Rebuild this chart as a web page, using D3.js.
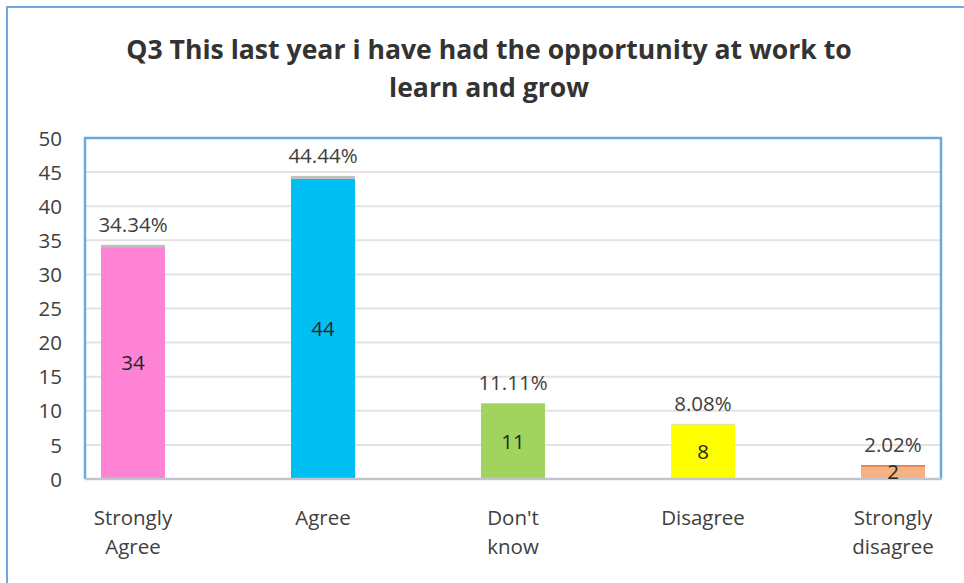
<!DOCTYPE html>
<html>
<head>
<meta charset="utf-8">
<script src="https://cdn.jsdelivr.net/npm/d3@7"></script>
<style>
  html, body { margin: 0; padding: 0; background: #fff; }
  svg { display: block; font-family: "Open Sans", "Noto Sans", sans-serif; }
</style>
</head>
<body>
<svg id="chart" width="964" height="583"></svg>
<script>
// Survey responses for Q3
const categories = ["Strongly Agree", "Agree", "Don't know", "Disagree", "Strongly disagree"];
const categoryLines = [["Strongly", "Agree"], ["Agree"], ["Don't", "know"], ["Disagree"], ["Strongly", "disagree"]];
const counts = [34, 44, 11, 8, 2];
const percents = [34.34, 44.44, 11.11, 8.08, 2.02];
const barColors = ["#FF83D5", "#00BFF3", "#A1D45F", "#FFFF00", "#F4B183"];
const capColors = ["#BFBFBF", "#BFBFBF", "#BFBFBF", "#BFBFBF", "#E8612C"];
const yTicks = [0, 5, 10, 15, 20, 25, 30, 35, 40, 45, 50];
const titleLines = ["Q3 This last year i have had the opportunity at work to", "learn and grow"];

const svg = d3.select("#chart");
const W = 964, H = 583;
const plot = { left: 85, right: 941, top: 138, bottom: 479 };
const labelSize = 20.5;

// outer frame (left and top edges visible)
svg.append("path")
  .attr("d", `M7,${H + 2} L7,7 L${W + 2},7`)
  .attr("fill", "none").attr("stroke", "#6FA8DC").attr("stroke-width", 2);

// title
svg.append("text")
  .attr("x", 489).attr("y", 59)
  .attr("text-anchor", "middle")
  .attr("font-size", 26.6).attr("font-weight", "bold").attr("fill", "#333333")
  .selectAll("tspan").data(titleLines).join("tspan")
  .attr("x", 489).attr("dy", (d, i) => i === 0 ? 0 : 38)
  .text(d => d);

const y = d3.scaleLinear().domain([0, 50]).range([plot.bottom, plot.top]);
const x = d3.scalePoint().domain(categories).range([133, 893]);
const barW = 64;

// gridlines
svg.append("g").selectAll("line").data(yTicks.filter(t => t > 0 && t < 50)).join("line")
  .attr("x1", plot.left).attr("x2", plot.right)
  .attr("y1", d => y(d)).attr("y2", d => y(d))
  .attr("stroke", "#E3E3E3").attr("stroke-width", 2);

// y axis labels
const yAxis = d3.axisLeft(y).tickValues(yTicks).tickSize(0).tickPadding(0);
const gy = svg.append("g").attr("transform", `translate(62,0)`).call(yAxis);
gy.select(".domain").remove();
gy.selectAll("text")
  .attr("font-family", "'Open Sans', sans-serif")
  .attr("font-size", labelSize).attr("fill", "#404040").attr("dy", "0.35em");

// count bars
svg.append("g").selectAll("rect").data(categories).join("rect")
  .attr("x", (d) => x(d) - barW / 2)
  .attr("width", barW)
  .attr("y", (d, i) => y(counts[i]))
  .attr("height", (d, i) => y(0) - y(counts[i]))
  .attr("fill", (d, i) => barColors[i]);

// percentage series stacked on top (as a fraction of one unit)
svg.append("g").selectAll("rect").data(categories).join("rect")
  .attr("x", (d) => x(d) - barW / 2)
  .attr("width", barW)
  .attr("y", (d, i) => y(counts[i] + percents[i] / 100))
  .attr("height", (d, i) => Math.max(y(counts[i]) - y(counts[i] + percents[i] / 100), i === 4 ? 1.2 : 0))
  .attr("fill", (d, i) => capColors[i]);

// plot border: blue on left/top/right, grey baseline
svg.append("path")
  .attr("d", `M${plot.left},${plot.bottom} L${plot.left},${plot.top} L${plot.right},${plot.top} L${plot.right},${plot.bottom}`)
  .attr("fill", "none").attr("stroke", "#6FA8DC").attr("stroke-width", 2.5);
svg.append("line")
  .attr("x1", plot.left).attr("x2", plot.right + 1)
  .attr("y1", plot.bottom).attr("y2", plot.bottom)
  .attr("stroke", "#BFC5CC").attr("stroke-width", 2.5);

// count labels centred in bars
svg.append("g").selectAll("text").data(categories).join("text")
  .attr("x", d => x(d))
  .attr("y", (d, i) => (y(counts[i]) + y(0)) / 2)
  .attr("dy", "0.35em")
  .attr("text-anchor", "middle")
  .attr("font-size", labelSize).attr("fill", "#262626")
  .text((d, i) => counts[i]);

// percentage labels above bars
svg.append("g").selectAll("text").data(categories).join("text")
  .attr("x", d => x(d))
  .attr("y", (d, i) => y(counts[i] + percents[i] / 100) - 13)
  .attr("text-anchor", "middle")
  .attr("font-size", labelSize).attr("fill", "#404040")
  .text((d, i) => percents[i].toFixed(2) + "%");

// category labels
const gx = svg.append("g").selectAll("text").data(categories).join("text")
  .attr("x", d => x(d))
  .attr("y", 525)
  .attr("text-anchor", "middle")
  .attr("font-size", labelSize).attr("fill", "#404040");
gx.selectAll("tspan").data((d, i) => categoryLines[i].map(t => ({ t, c: d }))).join("tspan")
  .attr("x", d => x(d.c))
  .attr("dy", (d, j) => j === 0 ? 0 : 29)
  .text(d => d.t);
</script>
</body>
</html>
